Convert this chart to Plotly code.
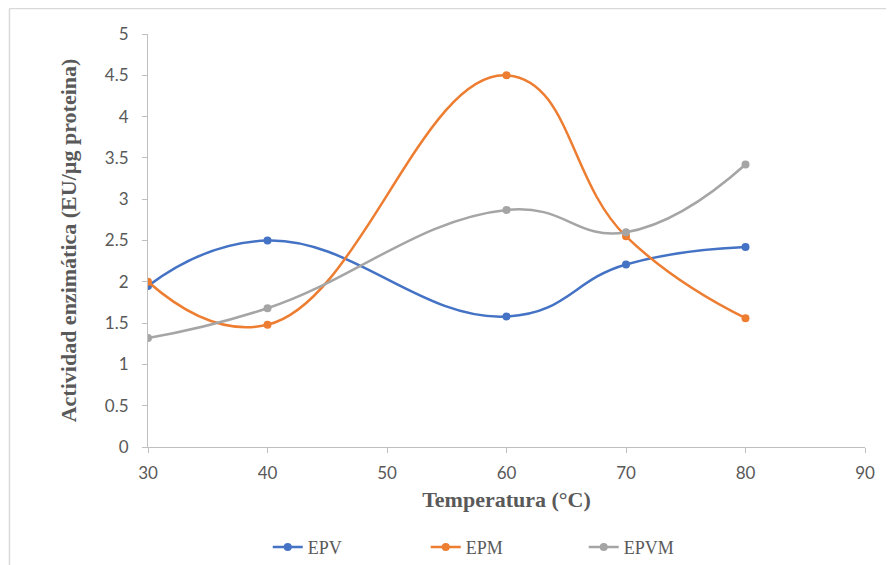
import plotly.graph_objects as go

temps = [30, 40, 60, 70, 80]
epv = [1.95, 2.50, 1.58, 2.21, 2.42]
epm = [2.00, 1.48, 4.50, 2.55, 1.56]
epvm = [1.32, 1.68, 2.87, 2.60, 3.42]

series = [("EPV", epv, "#4472C4"), ("EPM", epm, "#ED7D31"), ("EPVM", epvm, "#A5A5A5")]

fig = go.Figure()
for name, vals, col in series:
    fig.add_trace(go.Scatter(
        x=temps, y=vals, name=name, mode="lines+markers",
        line=dict(color=col, width=2.5, shape="spline", smoothing=1.3),
        marker=dict(color=col, size=8),
    ))

serif = "Liberation Serif"
tickfont = dict(family="Lato", size=17, color="#595959")
fig.update_layout(
    width=886, height=557,
    margin=dict(l=140, r=29, t=26, b=118, autoexpand=False),
    paper_bgcolor="white", plot_bgcolor="white",
    font=dict(family=serif, color="#595959", size=15),
    showlegend=True,
    legend=dict(orientation="h", x=0.167, xanchor="left", y=-0.198, yanchor="top",
                bgcolor="rgba(0,0,0,0)",
                font=dict(family=serif, size=18, color="#595959"), entrywidth=113),
    xaxis=dict(range=[30, 90], dtick=10, showgrid=False, zeroline=False, automargin=False,
               showline=True, linecolor="#BFBFBF", linewidth=1,
               ticks="outside", ticklen=5, tickcolor="#BFBFBF",
               ticklabelstandoff=6, tickfont=tickfont,
               title=dict(text="<b>Temperatura (°C)</b>", font=dict(family=serif, size=22, color="#595959"), standoff=9)),
    yaxis=dict(range=[0, 5], dtick=0.5, showgrid=False, zeroline=False, automargin=False,
               showline=True, linecolor="#BFBFBF", linewidth=1,
               ticks="outside", ticklen=5, tickcolor="#BFBFBF",
               ticklabelstandoff=10, tickfont=tickfont,
               title=dict(text="<b>Actividad enzimática (EU/µg proteina)</b>", font=dict(family=serif, size=22, color="#595959"), standoff=22)),
    shapes=[
        dict(type="line", xref="paper", yref="paper", x0=-0.1932, x1=1.05, y0=1.0617, y1=1.0617,
             line=dict(color="#D9D9D9", width=1.5), layer="below"),
        dict(type="line", xref="paper", yref="paper", x0=-0.1932, x1=-0.1932, y0=1.0617, y1=-0.3,
             line=dict(color="#D9D9D9", width=1.5), layer="below"),
    ],
)

fig.write_html("out.html")
